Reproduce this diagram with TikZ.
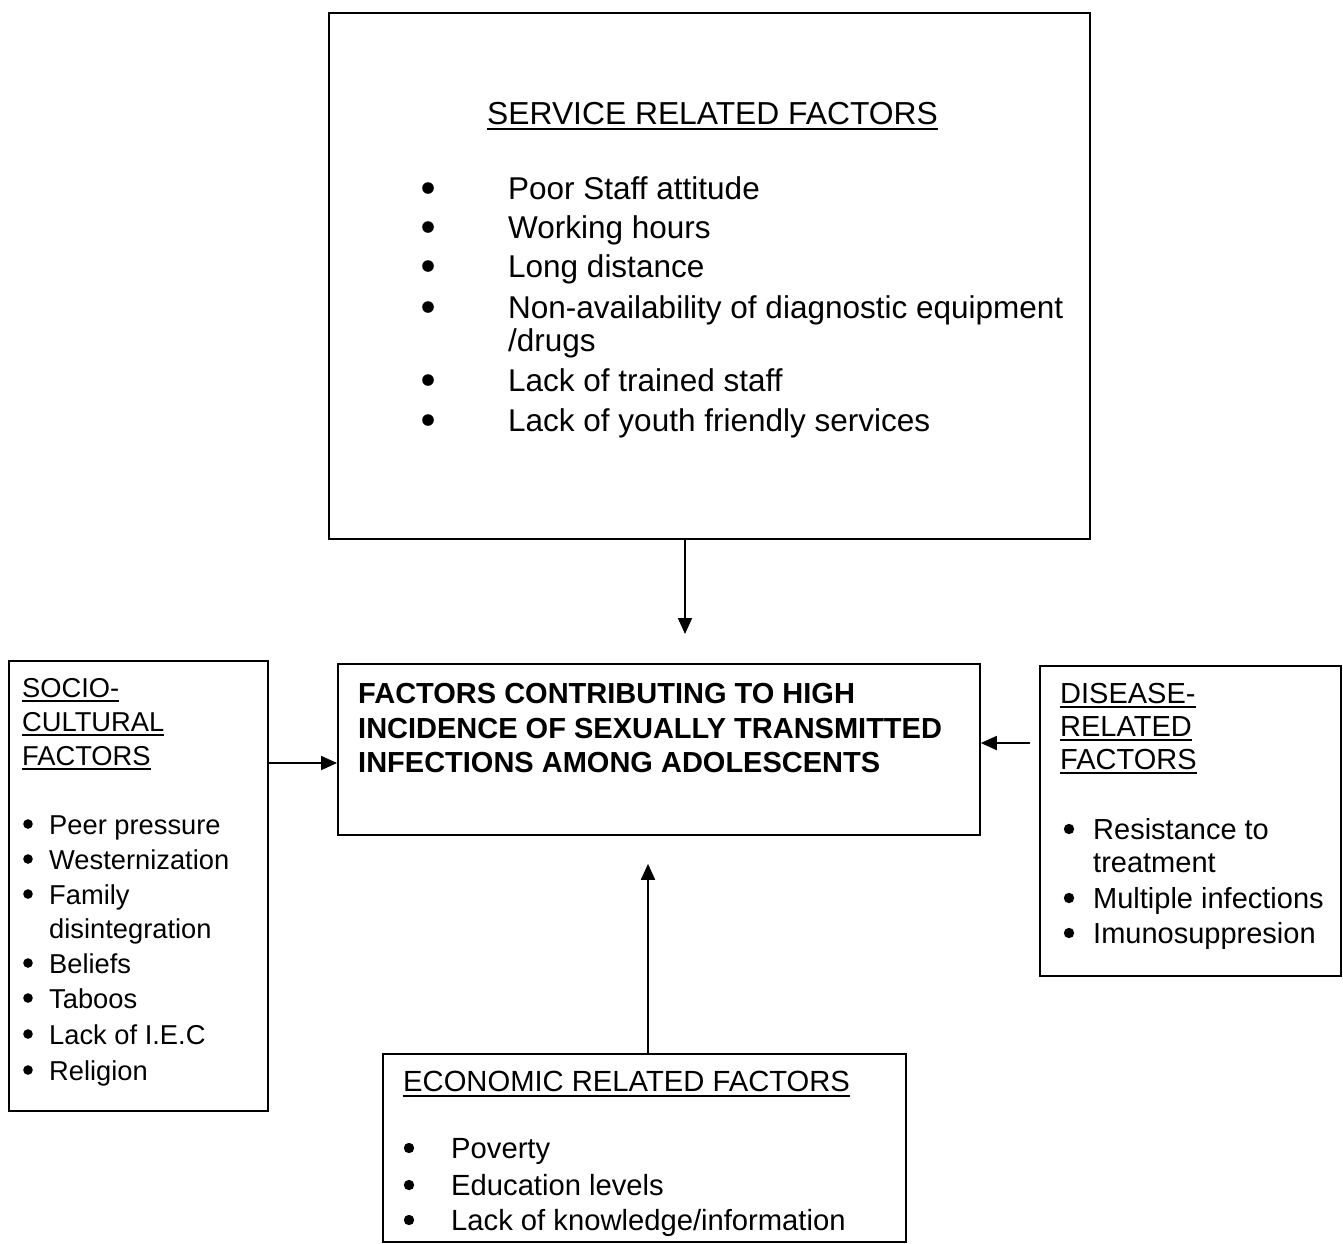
\documentclass[tikz,border=0pt]{standalone}
\usepackage{fontspec}
\setmainfont{Liberation Sans}
\usetikzlibrary{arrows.meta}
\begin{document}
\begin{tikzpicture}[x=1pt,y=-1pt,
  box/.style={draw, line width=1.8pt, anchor=north west, inner sep=0pt},
  txt/.style={anchor=base west, inner sep=0pt},
  fsvc/.style={font=\fontsize{31.5}{36}\selectfont},
  fsvt/.style={font=\fontsize{31.8}{36}\selectfont},
  fctr/.style={font=\fontsize{29}{34}\selectfont\bfseries},
  fsoc/.style={font=\fontsize{27.3}{31}\selectfont},
  fdis/.style={font=\fontsize{29}{34}\selectfont},
  feco/.style={font=\fontsize{29.2}{34}\selectfont},
  ul/.style={line width=1.6pt},
  arr/.style={line width=1.8pt, -{Triangle[length=16pt,width=14pt]}}]
\useasboundingbox (0,0) rectangle (1343,1243);

% boxes
\node[box, minimum width=761pt, minimum height=526pt] (svc) at (328,12) {};
\node[box, minimum width=642pt, minimum height=171pt] (ctr) at (337,663) {};
\node[box, minimum width=259pt, minimum height=450pt] (soc) at (8,660) {};
\node[box, minimum width=301pt, minimum height=310pt] (dis) at (1039,665) {};
\node[box, minimum width=523pt, minimum height=188pt] (eco) at (382,1053) {};

% service related factors
\node[txt, fsvt] (st) at (487,124) {SERVICE RELATED FACTORS};
\draw[ul] ([yshift=-5pt]st.base west) -- ([yshift=-5pt]st.base east);
\node[txt, fsvc] (s1) at (508,199) {Poor Staff attitude};
\node[txt, fsvc] (s2) at (508,238) {Working hours};
\node[txt, fsvc] (s3) at (508,277) {Long distance};
\node[txt, fsvc] (s4) at (508,318) {Non-availability of diagnostic equipment};
\node[txt, fsvc] (s5) at (508,351) {/drugs};
\node[txt, fsvc] (s6) at (508,391) {Lack of trained staff};
\node[txt, fsvc] (s7) at (508,431) {Lack of youth friendly services};
\foreach \y in {199,238,277,318,391,431}
  \fill (428,\y-11) circle (5.8pt);

% center
\node[txt, fctr] (c1) at (358,703) {FACTORS CONTRIBUTING TO HIGH};
\node[txt, fctr] (c2) at (358,738) {INCIDENCE OF SEXUALLY TRANSMITTED};
\node[txt, fctr] (c3) at (358,772) {INFECTIONS AMONG ADOLESCENTS};

% socio-cultural
\node[txt, fsoc] (o1) at (22,697) {SOCIO-};
\node[txt, fsoc] (o2) at (22,731) {CULTURAL};
\node[txt, fsoc] (o3) at (22,765) {FACTORS};
\foreach \n in {o1,o2,o3}
  \draw[ul] ([yshift=-4pt]\n.base west) -- ([yshift=-4pt]\n.base east);
\node[txt, fsoc] (p1) at (49,834) {Peer pressure};
\node[txt, fsoc] (p2) at (49,869) {Westernization};
\node[txt, fsoc] (p3) at (49,904) {Family};
\node[txt, fsoc] (p4) at (49,938) {disintegration};
\node[txt, fsoc] (p5) at (49,973) {Beliefs};
\node[txt, fsoc] (p6) at (49,1008) {Taboos};
\node[txt, fsoc] (p7) at (49,1044) {Lack of I.E.C};
\node[txt, fsoc] (p8) at (49,1080) {Religion};
\foreach \y in {834,869,904,973,1008,1044,1080}
  \fill (28,\y-10) circle (4.8pt);

% disease related
\node[txt, fdis] (d1) at (1060,703) {DISEASE-};
\node[txt, fdis] (d2) at (1060,736) {RELATED};
\node[txt, fdis] (d3) at (1060,769) {FACTORS};
\foreach \n in {d1,d2,d3}
  \draw[ul] ([yshift=-4pt]\n.base west) -- ([yshift=-4pt]\n.base east);
\node[txt, fdis] (q1) at (1093,839) {Resistance to};
\node[txt, fdis] (q2) at (1093,872) {treatment};
\node[txt, fdis] (q3) at (1093,908) {Multiple infections};
\node[txt, fdis] (q4) at (1093,943) {Imunosuppresion};
\foreach \y in {839,908,943}
  \fill (1069,\y-10) circle (5.2pt);

% economic related
\node[txt, feco] (et) at (403,1091) {ECONOMIC RELATED FACTORS};
\draw[ul] ([yshift=-5pt]et.base west) -- ([yshift=-5pt]et.base east);
\node[txt, feco] (e1) at (451,1158) {Poverty};
\node[txt, feco] (e2) at (451,1195) {Education levels};
\node[txt, feco] (e3) at (451,1230) {Lack of knowledge/information};
\foreach \y in {1158,1195,1230}
  \fill (409,\y-10) circle (5.2pt);

% connectors
\draw[arr] (svc.south -| 685,0) -- ([yshift=29pt]ctr.north -| 685,0);
\draw[arr] (soc.east |- 0,763) -- (ctr.west |- 0,763);
\draw[arr] ([xshift=-9pt]dis.west |- 0,743) -- (ctr.east |- 0,743);
\draw[arr] (eco.north -| 648,0) -- ([yshift=-28pt]ctr.south -| 648,0);
\end{tikzpicture}
\end{document}
